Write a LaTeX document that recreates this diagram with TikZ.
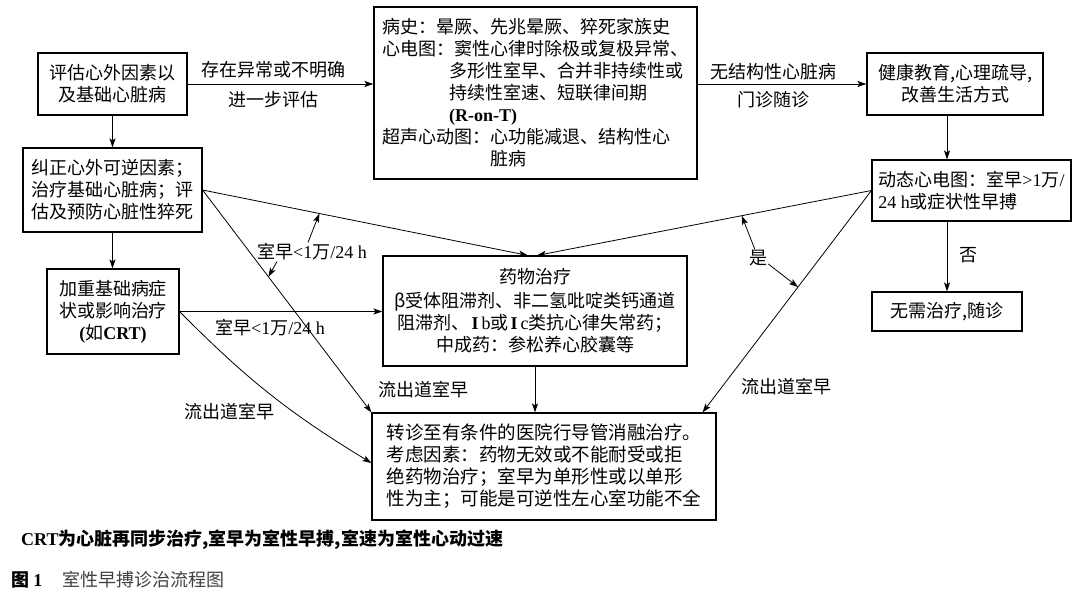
\documentclass[tikz,border=0pt]{standalone}
\usepackage{fontspec}
\setmainfont{Noto Sans CJK SC}
\newfontfamily\latf{Liberation Serif}
\usetikzlibrary{arrows.meta,calc}
\newcommand\latn[1]{{\latf #1}}
\newcommand\latb[1]{{\latf\bfseries #1}}
\newcommand\romI{\kern2pt{\latf\bfseries I}\kern3pt}
\begin{document}
\begin{tikzpicture}[x=1pt,y=-1pt,
  box/.style={draw, line width=1.1pt, inner sep=0pt, align=center, font=\fontsize{18}{22}\selectfont},
  lbl/.style={inner sep=1pt, font=\fontsize{18}{22}\selectfont},
  arr/.style={line width=0.8pt, -{Stealth[length=9pt,width=6pt,inset=2pt]}},
]
\useasboundingbox[fill=white] (0,0) rectangle (1080,602);

% boxes
\node[box, minimum width=149pt, minimum height=62pt] (A) at (112.5,84) {评估心外因素以\\及基础心脏病};
\node[box, align=left, minimum width=179pt, minimum height=84pt] (B) at (112.5,190) {纠正心外可逆因素；\\治疗基础心脏病；评\\估及预防心脏性猝死};
\node[box, minimum width=132pt, minimum height=85pt] (C) at (113,311.5) {加重基础病症\\状或影响治疗\\\latb{(}如\latb{CRT)}};
\node[box, align=left, minimum width=323pt, minimum height=172pt] (D) at (535.5,93) {病史：晕厥、先兆晕厥、猝死家族史\\心电图：窦性心律时除极或复极异常、\\\hspace*{3.7em}多形性室早、合并非持续性或\\\hspace*{3.7em}持续性室速、短联律间期\\\hspace*{3.7em}\latb{(R-on-T)}\\超声心动图：心功能减退、结构性心\\\hspace*{6em}脏病};
\node[box, minimum width=176pt, minimum height=62pt] (E) at (955,84) {健康教育,心理疏导,\\改善生活方式};
\node[box, align=left, minimum width=199pt, minimum height=61pt] (F) at (971.5,190.5) {动态心电图：室早\latn{>1}万\latn{/}\\\latn{24 h}或症状性早搏};
\node[box, minimum width=150pt, minimum height=39pt] (G) at (947,311.5) {无需治疗,随诊};
\node[box, minimum width=304pt, minimum height=110pt] (H) at (535,311) {药物治疗\\[2pt]β受体阻滞剂、非二氢吡啶类钙通道\\阻滞剂、\romI\latn{b}或\romI\latn{c}类抗心律失常药；\\中成药：参松养心胶囊等};
\node[box, align=left, minimum width=344pt, minimum height=107pt, font=\fontsize{18.5}{22}\selectfont] (I) at (544,466.5) {转诊至有条件的医院行导管消融治疗。\\考虑因素：药物无效或不能耐受或拒\\绝药物治疗；室早为单形性或以单形\\性为主；可能是可逆性左心室功能不全};

% labels
\node[lbl] (L1) at (273,70) {存在异常或不明确};
\node[lbl] (L2) at (273,100) {进一步评估};
\node[lbl] (L3) at (773,72) {无结构性心脏病};
\node[lbl] (L4) at (773,100) {门诊随诊};
\node[lbl] (L5) at (312,252) {室早\latn{<1}万\latn{/24 h}};
\node[lbl] (L6) at (270,328) {室早\latn{<1}万\latn{/24 h}};
\node[lbl] (L7) at (229,412) {流出道室早};
\node[lbl] (L8) at (423,390) {流出道室早};
\node[lbl] (L9) at (786,387) {流出道室早};
\node[lbl] (Y) at (758,258) {是};
\node[lbl] (N) at (968,255) {否};
\node[lbl, anchor=west, font=\bfseries\fontsize{18}{22}\selectfont] (FN) at (20,540) {\latb{CRT}为心脏再同步治疗,室早为室性早搏,室速为室性心动过速};
\node[lbl, anchor=west, font=\bfseries\fontsize{18}{22}\selectfont] (CAP1) at (10,580) {图 \latb{1}};
\node[lbl, anchor=west, text=black!75] (CAP2) at (61,580) {室性早搏诊治流程图};

% connectors
\coordinate (H1) at ([xshift=-7pt]H.north);
\coordinate (H2) at ([xshift=2pt]H.north);
\coordinate (I2) at ([xshift=-14pt]I.north east);
\draw[arr] (A.east) -- (A.east -| D.west);
\draw[arr] (D.east |- E.west) -- (E.west);
\draw[arr] (A.south) -- (B.north);
\draw[arr] (B.south) -- (B.south |- C.north);
\draw[arr] (E.south -| G.north) -- (F.north -| G.north);
\draw[arr] (F.south -| G.north) -- (G.north);
\draw[arr] (B.east) -- (H1);
\draw[arr] (B.east) -- (I.north west);
\draw[arr] (C.east) -- (C.east -| H.west);
\draw[arr] (C.east) to[bend right=7] ([yshift=3.5pt]I.west);
\draw[arr] (F.west) -- (H2);
\draw[arr] (F.west) -- (I2);
\draw[arr] (H.south) -- (H.south |- I.north);

% annotation arrows
\path (B.east) -- (H1) coordinate[pos=0.359] (p1);
\path (B.east) -- (I.north west) coordinate[pos=0.39] (p2);
\path (F.west) -- (H2) coordinate[pos=0.388] (p3);
\path (F.west) -- (I2) coordinate[pos=0.435] (p4);
\draw[arr] ([xshift=-4pt]L5.north) -- (p1);
\draw[arr] ([xshift=-35pt]L5.south) -- (p2);
\draw[arr] (Y.110) -- (p3);
\draw[arr] (Y.-30) -- (p4);
\end{tikzpicture}
\end{document}
